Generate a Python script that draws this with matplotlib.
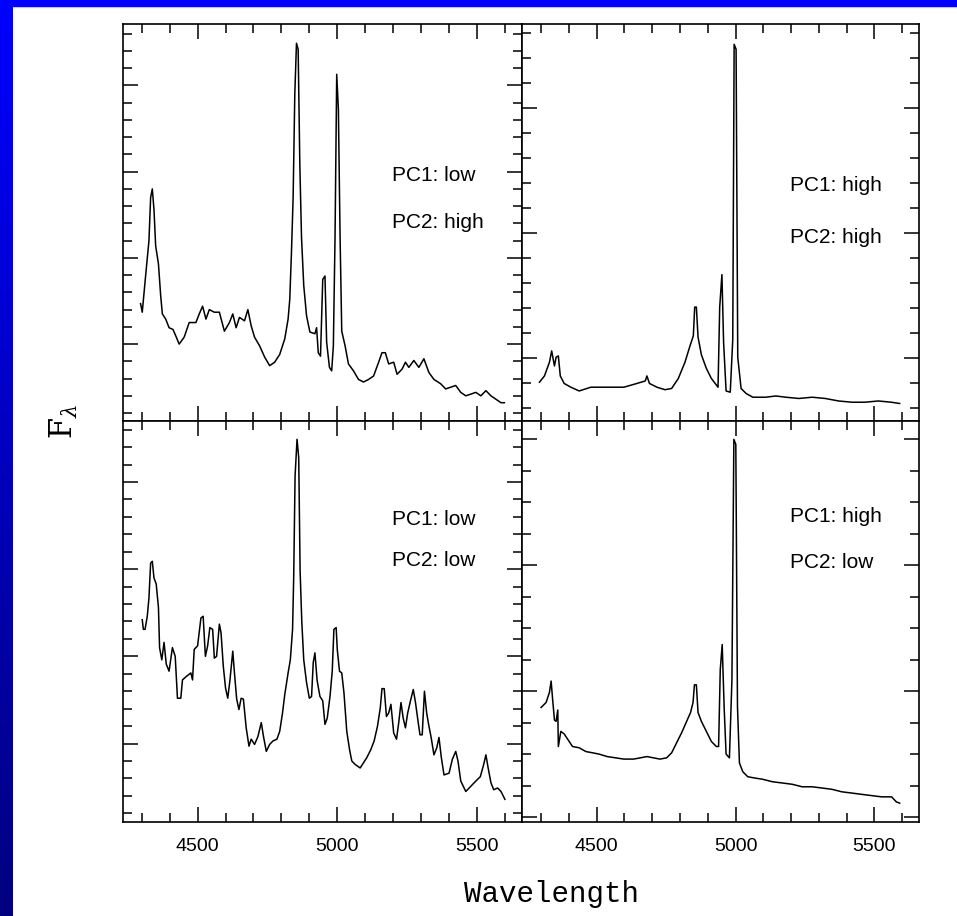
import numpy as np
import matplotlib
matplotlib.use("Agg")
import matplotlib.pyplot as plt
from matplotlib.patches import Rectangle
from matplotlib.ticker import MultipleLocator

# ---- data (wavelength in A, flux in arbitrary units) ----
wl_tl = [4296, 4302, 4314, 4326, 4332, 4338, 4344, 4350, 4360, 4368, 4374, 4386, 4398, 4412,
         4424, 4434, 4452, 4470, 4494, 4506, 4518, 4530, 4542, 4560, 4578, 4596, 4614, 4626,
         4638, 4650, 4668, 4680, 4692, 4704, 4722, 4740, 4758, 4776, 4794, 4812, 4824, 4830,
         4836, 4842, 4848, 4854, 4860, 4866, 4872, 4880, 4890, 4902, 4920, 4926, 4932, 4940,
         4948, 4956, 4962, 4972, 4980, 4986, 4992, 4998, 5004, 5010, 5016, 5028, 5040, 5058,
         5076, 5094, 5112, 5130, 5148, 5160, 5172, 5184, 5202, 5214, 5232, 5244, 5256, 5274,
         5292, 5310, 5328, 5346, 5370, 5388, 5406, 5424, 5442, 5460, 5478, 5496, 5514, 5532,
         5550, 5568, 5586, 5598]
flux_tl = [1.47, 1.37, 1.79, 2.20, 2.70, 2.80, 2.56, 2.14, 1.93, 1.56, 1.35, 1.29, 1.19, 1.17,
           1.08, 1.00, 1.08, 1.25, 1.25, 1.35, 1.44, 1.29, 1.40, 1.37, 1.37, 1.15, 1.25, 1.35,
           1.19, 1.31, 1.27, 1.40, 1.21, 1.08, 0.98, 0.85, 0.75, 0.79, 0.88, 1.06, 1.29, 1.52,
           2.06, 2.70, 3.90, 4.49, 4.42, 3.08, 2.24, 1.68, 1.33, 1.14, 1.12, 1.19, 0.90, 0.86,
           1.75, 1.79, 1.02, 0.73, 0.69, 0.98, 2.24, 4.13, 3.72, 2.25, 1.15, 0.98, 0.77, 0.69,
           0.59, 0.56, 0.59, 0.63, 0.79, 0.90, 0.90, 0.77, 0.79, 0.65, 0.71, 0.79, 0.73, 0.81,
           0.73, 0.83, 0.67, 0.59, 0.54, 0.48, 0.50, 0.52, 0.44, 0.40, 0.42, 0.44, 0.40, 0.46,
           0.40, 0.36, 0.32, 0.32]

wl_tr = [4294, 4312, 4330, 4338, 4348, 4354, 4362, 4369, 4383, 4407, 4437, 4479, 4538, 4598,
         4645, 4675, 4681, 4690, 4717, 4746, 4770, 4794, 4818, 4836, 4848, 4853, 4859, 4865,
         4877, 4895, 4913, 4937, 4943, 4951, 4957, 4966, 4981, 4990, 4995, 5002, 5008, 5020,
         5038, 5062, 5109, 5145, 5181, 5228, 5276, 5323, 5371, 5419, 5466, 5514, 5561, 5591]
flux_tr = [0.81, 0.86, 0.97, 1.06, 0.94, 1.01, 1.02, 0.86, 0.80, 0.77, 0.74, 0.77, 0.77, 0.77,
           0.80, 0.82, 0.86, 0.80, 0.77, 0.75, 0.76, 0.84, 0.97, 1.10, 1.18, 1.41, 1.41, 1.17,
           1.03, 0.92, 0.84, 0.77, 1.41, 1.67, 1.13, 0.74, 0.73, 1.15, 3.51, 3.47, 1.01, 0.76,
           0.72, 0.69, 0.69, 0.70, 0.69, 0.68, 0.69, 0.68, 0.66, 0.65, 0.65, 0.66, 0.65, 0.64]

wl_bl = [4302, 4306, 4312, 4320, 4326, 4332, 4338, 4344, 4352, 4360, 4364, 4372, 4380, 4388,
         4398, 4410, 4420, 4428, 4440, 4446, 4460, 4476, 4482, 4488, 4500, 4512, 4520, 4528,
         4536, 4544, 4554, 4560, 4568, 4578, 4584, 4592, 4600, 4608, 4616, 4626, 4632, 4640,
         4648, 4656, 4664, 4674, 4684, 4692, 4704, 4716, 4728, 4736, 4746, 4758, 4770, 4784,
         4794, 4804, 4812, 4824, 4832, 4840, 4844, 4849, 4856, 4862, 4867, 4873, 4880, 4890,
         4900, 4908, 4914, 4920, 4928, 4938, 4948, 4956, 4964, 4974, 4982, 4988, 4996, 5000,
         5008, 5016, 5024, 5034, 5044, 5052, 5064, 5082, 5094, 5106, 5120, 5132, 5144, 5154,
         5160, 5168, 5176, 5184, 5192, 5202, 5212, 5220, 5228, 5236, 5244, 5252, 5262, 5272,
         5280, 5288, 5296, 5304, 5312, 5320, 5328, 5336, 5346, 5356, 5364, 5372, 5382, 5400,
         5412, 5424, 5432, 5442, 5460, 5478, 5496, 5512, 5524, 5532, 5540, 5550, 5560, 5574,
         5586, 5600]
flux_bl = [2.42, 2.31, 2.31, 2.46, 2.67, 3.07, 3.09, 2.90, 2.83, 2.56, 2.10, 1.96, 2.16, 1.91,
           1.83, 2.10, 2.00, 1.52, 1.52, 1.73, 1.77, 1.81, 1.73, 2.08, 2.12, 2.44, 2.46, 2.00,
           2.12, 2.33, 2.31, 1.98, 2.00, 2.37, 2.27, 1.89, 1.64, 1.52, 1.73, 2.06, 1.81, 1.51,
           1.39, 1.52, 1.51, 1.18, 0.97, 1.05, 0.99, 1.08, 1.24, 1.08, 0.91, 0.99, 1.03, 1.05,
           1.14, 1.35, 1.56, 1.81, 1.96, 2.31, 2.90, 4.07, 4.49, 4.28, 2.98, 2.40, 1.96, 1.70,
           1.52, 1.54, 1.93, 2.04, 1.72, 1.54, 1.49, 1.22, 1.29, 1.54, 1.83, 2.31, 2.33, 2.08,
           1.83, 1.81, 1.58, 1.14, 0.93, 0.80, 0.76, 0.72, 0.78, 0.84, 0.93, 1.03, 1.20, 1.41,
           1.63, 1.63, 1.31, 1.35, 1.45, 1.12, 1.05, 1.24, 1.47, 1.29, 1.18, 1.35, 1.49, 1.62,
           1.47, 1.28, 1.10, 1.10, 1.60, 1.35, 1.20, 1.07, 0.87, 0.95, 1.07, 0.85, 0.64, 0.66,
           0.82, 0.91, 0.80, 0.57, 0.45, 0.51, 0.57, 0.62, 0.76, 0.87, 0.72, 0.55, 0.47, 0.49,
           0.45, 0.36]

wl_br = [4300, 4318, 4330, 4336, 4342, 4348, 4354, 4360, 4362, 4371, 4383, 4395, 4413, 4437,
         4461, 4485, 4508, 4538, 4568, 4598, 4633, 4681, 4728, 4752, 4770, 4788, 4806, 4824,
         4838, 4847, 4852, 4859, 4865, 4877, 4895, 4913, 4931, 4939, 4945, 4952, 4959, 4966,
         4978, 4987, 4994, 5001, 5007, 5014, 5026, 5044, 5068, 5097, 5133, 5169, 5204, 5240,
         5276, 5312, 5347, 5383, 5419, 5454, 5490, 5526, 5562, 5579, 5591]
flux_br = [1.87, 1.91, 1.99, 2.08, 1.92, 1.77, 1.76, 1.85, 1.56, 1.68, 1.66, 1.62, 1.56, 1.55,
           1.52, 1.51, 1.50, 1.48, 1.47, 1.46, 1.46, 1.48, 1.46, 1.47, 1.51, 1.59, 1.67, 1.76,
           1.83, 1.91, 2.05, 2.05, 1.83, 1.76, 1.68, 1.60, 1.56, 1.56, 2.17, 2.37, 1.87, 1.50,
           1.47, 2.09, 4.00, 3.96, 1.88, 1.43, 1.36, 1.32, 1.31, 1.30, 1.28, 1.27, 1.26, 1.24,
           1.24, 1.23, 1.22, 1.20, 1.19, 1.18, 1.17, 1.16, 1.16, 1.12, 1.11]

pc1_labels = ["PC1: low", "PC1: high", "PC1: low", "PC1: high"]
pc2_labels = ["PC2: high", "PC2: high", "PC2: low", "PC2: low"]
x_ticks = [4500, 5000, 5500]

panels = [
    # (wl, flux, axes rect, ylim, minor step, label y for PC1, PC2, x label?)
    (wl_tl, flux_tl, [0.1282, 0.5404, 0.4175, 0.4331], (0.108, 4.71), 0.2, 0.618, 0.501, False),
    (wl_tr, flux_tr, [0.5457, 0.5404, 0.4150, 0.4331], (0.50, 3.67), 0.2, 0.593, 0.463, False),
    (wl_bl, flux_bl, [0.1282, 0.1030, 0.4175, 0.4374], (0.104, 4.70), 0.2, 0.755, 0.651, True),
    (wl_br, flux_br, [0.5457, 0.1030, 0.4150, 0.4374], (0.963, 4.146), 0.25, 0.762, 0.648, True),
]

fig = plt.figure(figsize=(9.57, 9.16), dpi=100)

# blue frame: left gradient bar and top strip
bar = fig.add_axes([0, 0, 12.5 / 957, 1])
grad = np.linspace(1.0, 0.5, 256).reshape(-1, 1)
rgb = np.zeros((256, 1, 3))
rgb[:, :, 2] = grad
bar.imshow(rgb, aspect="auto", extent=[0, 1, 0, 1])
bar.axis("off")
fig.add_artist(Rectangle((0, 1 - 6 / 916), 1, 6 / 916, transform=fig.transFigure,
                         color="#0000FF", zorder=5))

for i, (wl, fl, rect, ylim, minor, y1, y2, xlab) in enumerate(panels):
    ax = fig.add_axes(rect)
    ax.plot(wl, fl, color="black", linewidth=1.1)
    ax.set_xlim(4232, 5662)
    ax.set_ylim(*ylim)
    ax.xaxis.set_major_locator(MultipleLocator(500))
    ax.xaxis.set_minor_locator(MultipleLocator(100))
    ax.yaxis.set_major_locator(MultipleLocator(1))
    ax.yaxis.set_minor_locator(MultipleLocator(minor))
    ax.tick_params(which="both", direction="in", top=True, right=True, width=1.1, color="black")
    ax.tick_params(which="major", length=11)
    ax.tick_params(which="minor", length=6.5)
    ax.tick_params(axis="x", pad=12, labelsize=14)
    ax.set_yticklabels([])
    if xlab:
        ax.set_xticks(x_ticks)
        ax.set_xticklabels([str(t) for t in x_ticks], fontfamily="Liberation Sans")
    else:
        ax.set_xticklabels([])
    for s in ax.spines.values():
        s.set_linewidth(1.2)
    ax.text(0.674, y1, pc1_labels[i], transform=ax.transAxes, fontsize=15,
            fontfamily="Liberation Sans", va="center", ha="left")
    ax.text(0.674, y2, pc2_labels[i], transform=ax.transAxes, fontsize=15,
            fontfamily="Liberation Sans", va="center", ha="left")

fig.text(0.5758, 0.0156, "Wavelength", fontsize=21, fontfamily="Liberation Mono",
         ha="center", va="baseline")
plt.rcParams["mathtext.fontset"] = "dejavuserif"
fig.text(0.067, 0.54, r"$\mathrm{F}_\lambda$", fontsize=22, rotation=90,
         ha="center", va="center")

fig.savefig("out.png", dpi=100)
